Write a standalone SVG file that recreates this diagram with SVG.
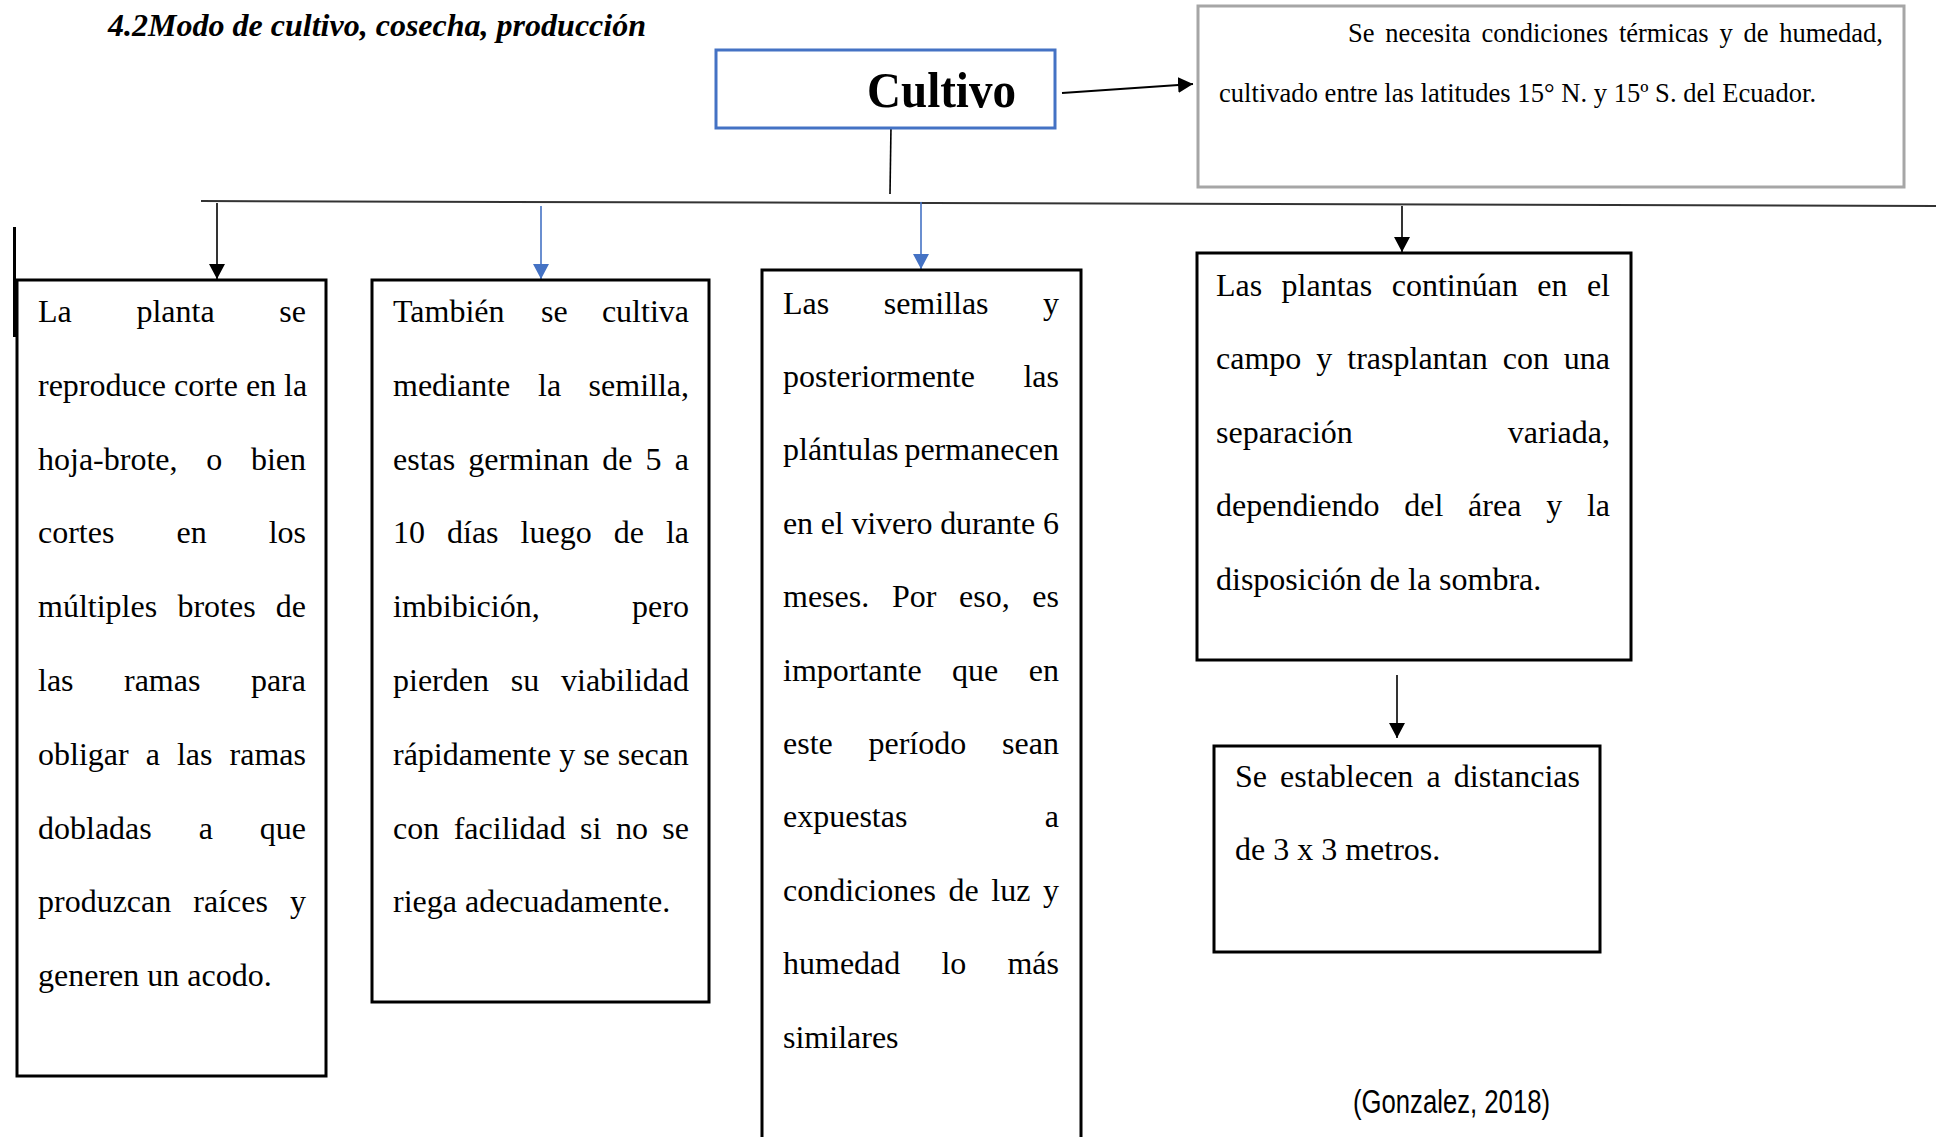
<svg xmlns="http://www.w3.org/2000/svg" width="1936" height="1137" viewBox="0 0 1936 1137">
<style>
.t{font-family:"Liberation Serif","Times New Roman",serif;font-size:32px;fill:#000}
.s{font-family:"Liberation Serif","Times New Roman",serif;font-size:26.5px;fill:#000}
.box{fill:#fff;stroke:#000;stroke-width:3}
.blk{stroke:#000;stroke-width:1.6;fill:none}
.blu{stroke:#4472C4;stroke-width:1.6;fill:none}
</style>
<defs>
<marker id="ab" markerUnits="userSpaceOnUse" markerWidth="16" markerHeight="16" refX="15" refY="8" orient="auto"><path d="M0,0 L15,8 L0,16 z" fill="#000"/></marker>
<marker id="au" markerUnits="userSpaceOnUse" markerWidth="16" markerHeight="16" refX="15" refY="8" orient="auto"><path d="M0,0 L15,8 L0,16 z" fill="#4472C4"/></marker>
</defs>
<rect width="1936" height="1137" fill="#fff"/>

<text id="title" x="108" y="36" font-family="Liberation Serif,Times New Roman,serif" font-size="32" font-weight="bold" font-style="italic" textLength="538">4.2Modo de cultivo, cosecha, producción</text>

<g id="connectors">
<line x1="201" y1="201" x2="1936" y2="206" stroke="#333" stroke-width="2"/>
<line x1="891" y1="126" x2="890" y2="194" class="blk"/>
<line x1="14.5" y1="227" x2="14.5" y2="337" stroke="#000" stroke-width="3"/>
<line x1="1062" y1="93" x2="1193" y2="84" stroke="#000" stroke-width="2" marker-end="url(#ab)"/>
<line x1="217" y1="203" x2="217" y2="279" class="blk" marker-end="url(#ab)"/>
<line x1="541" y1="206" x2="541" y2="279" class="blu" marker-end="url(#au)"/>
<line x1="921" y1="202" x2="921" y2="269" class="blu" marker-end="url(#au)"/>
<line x1="1402" y1="206" x2="1402" y2="252" class="blk" marker-end="url(#ab)"/>
<line x1="1397" y1="675" x2="1397" y2="738" class="blk" marker-end="url(#ab)"/>
</g>

<g id="cultivo">
<rect x="716" y="50" width="339" height="78" fill="#fff" stroke="#4472C4" stroke-width="3"/>
<text x="867" y="107" font-family="Liberation Serif,Times New Roman,serif" font-size="51" font-weight="bold" textLength="149" lengthAdjust="spacingAndGlyphs">Cultivo</text>
</g>

<g id="condiciones">
<rect x="1198" y="6" width="706" height="181" fill="#fff" stroke="#A6A6A6" stroke-width="3"/>
<text class="s" y="41.7"><tspan x="1348">Se</tspan><tspan x="1385.3">necesita</tspan><tspan x="1481.5">condiciones</tspan><tspan x="1618.9">térmicas</tspan><tspan x="1719.5">y</tspan><tspan x="1743.5">de</tspan><tspan x="1779.2">humedad,</tspan></text>
<text class="s" x="1219" y="101.7" textLength="597">cultivado entre las latitudes 15° N. y 15º S. del Ecuador.</text>
</g>

<g id="box1">
<rect class="box" x="17" y="280" width="309" height="796"/>
<text class="t" y="322"><tspan x="38">La</tspan><tspan x="136.4">planta</tspan><tspan x="279.3">se</tspan></text>
<text class="t" x="38" y="395.8">reproduce corte en la</text>
<text class="t" y="469.6"><tspan x="38">hoja-brote,</tspan><tspan x="206.2">o</tspan><tspan x="250.9">bien</tspan></text>
<text class="t" y="543.4"><tspan x="38">cortes</tspan><tspan x="176.5">en</tspan><tspan x="268.7">los</tspan></text>
<text class="t" y="617.2"><tspan x="38">múltiples</tspan><tspan x="177.4">brotes</tspan><tspan x="275.8">de</tspan></text>
<text class="t" y="691"><tspan x="38">las</tspan><tspan x="124">ramas</tspan><tspan x="250.9">para</tspan></text>
<text class="t" y="764.8"><tspan x="38">obligar</tspan><tspan x="145.7">a</tspan><tspan x="176.9">las</tspan><tspan x="229.6">ramas</tspan></text>
<text class="t" y="838.6"><tspan x="38">dobladas</tspan><tspan x="198.7">a</tspan><tspan x="259.8">que</tspan></text>
<text class="t" y="912.4"><tspan x="38">produzcan</tspan><tspan x="193.3">raíces</tspan><tspan x="290">y</tspan></text>
<text class="t" x="38" y="986.2">generen un acodo.</text>
</g>

<g id="box2">
<rect class="box" x="372" y="280" width="337" height="722"/>
<text class="t" y="322"><tspan x="393">También</tspan><tspan x="541">se</tspan><tspan x="601.9">cultiva</tspan></text>
<text class="t" y="395.8"><tspan x="393">mediante</tspan><tspan x="538">la</tspan><tspan x="588.6">semilla,</tspan></text>
<text class="t" y="469.6"><tspan x="393">estas</tspan><tspan x="468.3">germinan</tspan><tspan x="602.3">de</tspan><tspan x="645.6">5</tspan><tspan x="674.8">a</tspan></text>
<text class="t" y="543.4"><tspan x="393">10</tspan><tspan x="447">días</tspan><tspan x="520.6">luego</tspan><tspan x="613.7">de</tspan><tspan x="665.9">la</tspan></text>
<text class="t" y="617.2"><tspan x="393">imbibición,</tspan><tspan x="632.1">pero</tspan></text>
<text class="t" y="691"><tspan x="393">pierden</tspan><tspan x="510.8">su</tspan><tspan x="561">viabilidad</tspan></text>
<text class="t" x="393" y="764.8">rápidamente y se secan</text>
<text class="t" y="838.6"><tspan x="393">con</tspan><tspan x="453.7">facilidad</tspan><tspan x="580.1">si</tspan><tspan x="615.9">no</tspan><tspan x="662.3">se</tspan></text>
<text class="t" x="393" y="912.4">riega adecuadamente.</text>
</g>

<g id="box3">
<rect class="box" x="762" y="270" width="319" height="890"/>
<text class="t" y="313.5"><tspan x="783">Las</tspan><tspan x="883.7">semillas</tspan><tspan x="1043">y</tspan></text>
<text class="t" y="386.9"><tspan x="783">posteriormente</tspan><tspan x="1023.4">las</tspan></text>
<text class="t" y="460.3"><tspan x="783">plántulas</tspan><tspan x="904.4">permanecen</tspan></text>
<text class="t" x="783" y="533.7" textLength="276">en el vivero durante 6</text>
<text class="t" y="607.1"><tspan x="783">meses.</tspan><tspan x="891.9">Por</tspan><tspan x="959">eso,</tspan><tspan x="1032.3">es</tspan></text>
<text class="t" y="680.5"><tspan x="783">importante</tspan><tspan x="952.1">que</tspan><tspan x="1028.8">en</tspan></text>
<text class="t" y="753.9"><tspan x="783">este</tspan><tspan x="868.5">período</tspan><tspan x="1002.1">sean</tspan></text>
<text class="t" y="827.3"><tspan x="783">expuestas</tspan><tspan x="1044.8">a</tspan></text>
<text class="t" y="900.7"><tspan x="783">condiciones</tspan><tspan x="948.5">de</tspan><tspan x="991.3">luz</tspan><tspan x="1043">y</tspan></text>
<text class="t" y="974.1"><tspan x="783">humedad</tspan><tspan x="941.4">lo</tspan><tspan x="1007.4">más</tspan></text>
<text class="t" x="783" y="1047.5">similares</text>
</g>

<g id="box4">
<rect class="box" x="1197" y="253" width="434" height="407"/>
<text class="t" y="295.5"><tspan x="1216">Las</tspan><tspan x="1281.6">plantas</tspan><tspan x="1391.7">continúan</tspan><tspan x="1537.3">en</tspan><tspan x="1586.9">el</tspan></text>
<text class="t" y="369"><tspan x="1216">campo</tspan><tspan x="1316.3">y</tspan><tspan x="1347.3">trasplantan</tspan><tspan x="1502.7">con</tspan><tspan x="1563.8">una</tspan></text>
<text class="t" y="442.5"><tspan x="1216">separación</tspan><tspan x="1507.8">variada,</tspan></text>
<text class="t" y="516"><tspan x="1216">dependiendo</tspan><tspan x="1404.3">del</tspan><tspan x="1468.1">área</tspan><tspan x="1546.2">y</tspan><tspan x="1586.9">la</tspan></text>
<text class="t" x="1216" y="589.5">disposición de la sombra.</text>
</g>

<g id="box5">
<rect class="box" x="1214" y="746" width="386" height="206"/>
<text class="t" y="787"><tspan x="1235">Se</tspan><tspan x="1280.1">establecen</tspan><tspan x="1426.5">a</tspan><tspan x="1453.8">distancias</tspan></text>
<text class="t" x="1235" y="860">de 3 x 3 metros.</text>
</g>

<text id="cita" x="1353" y="1113" font-family="Liberation Sans,Arial,sans-serif" font-size="33" textLength="197" lengthAdjust="spacingAndGlyphs">(Gonzalez, 2018)</text>
</svg>
